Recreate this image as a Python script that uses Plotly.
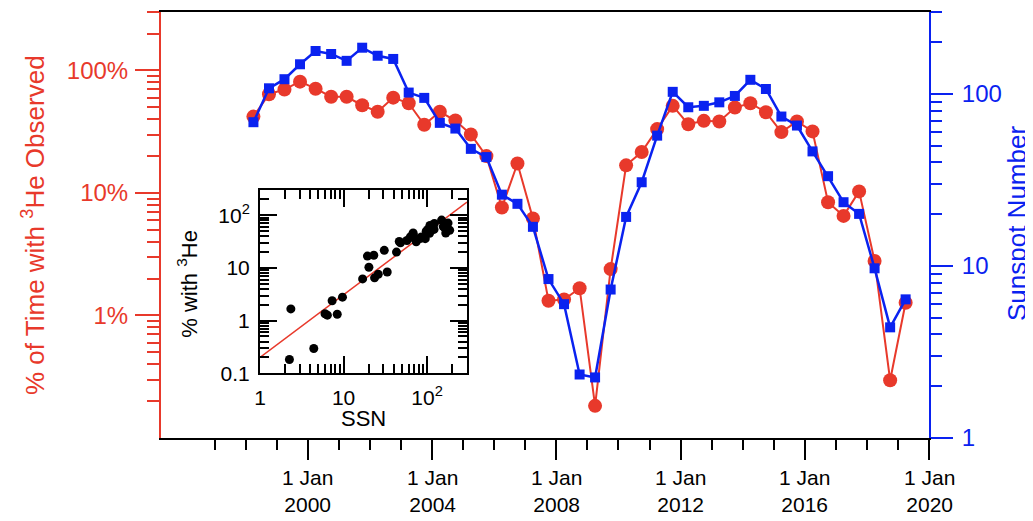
import plotly.graph_objects as go
import pandas as pd

# ---------------- data ----------------
# semi-annual samples, Apr 1998 ... Apr 2019
dates = pd.date_range("1998-04-01", periods=43, freq="6MS")

he3_pct = [42, 64, 70, 81, 71, 61, 61, 52, 46, 60,
           54, 36, 46, 39, 30, 20, 7.6, 17.4, 6.2, 1.32,
           1.35, 1.67, 0.183, 2.39, 16.8, 21.6, 33.2, 51.4, 36.4, 38.8,
           38.3, 49.8, 54, 45.6, 31.4, 38.3, 31.8, 8.4, 6.5, 10.3,
           2.79, 0.296, 1.27]

ssn = [68.6, 108, 122, 149, 178, 171, 156, 186, 167, 160,
       102, 95, 68, 63, 48, 43, 26, 23, 16.9, 8.4,
       6.0, 2.34, 2.25, 7.3, 19.3, 30.7, 57.3, 103, 83.8, 85.4,
       89.5, 97.5, 121, 107, 74, 65.6, 46.4, 33.3, 23.5, 20.1,
       9.7, 4.4, 6.4]

# power-law fit shown in the inset: pct = FIT_A * SSN ** FIT_B
FIT_A = 0.2
FIT_B = 1.19

major_years = [2000, 2004, 2008, 2012, 2016, 2020]
minor_years = [y for y in range(1997, 2020) if y not in major_years]

left_major = [1, 10, 100]
left_labels = ["1%", "10%", "100%"]
right_major = [1, 10, 100]
right_labels = ["1", "10", "100"]
inset_x_major = [1, 10, 100]
inset_x_labels = ["1", "10", "10<sup>2</sup>"]
inset_y_major = [0.1, 1, 10, 100]
inset_y_labels = ["0.1", "1", "10", "10<sup>2</sup>"]

# ---------------- style ----------------
RED = "#E8392B"
BLUE = "#0A22F0"
FONT = "Liberation Sans, Arial, Helvetica, sans-serif"


def log_minor(decades, extra=()):
    return [k * 10 ** e for e in decades for k in range(2, 10)] + list(extra)


fig = go.Figure()

fig.add_trace(go.Scatter(
    x=dates, y=he3_pct, mode="lines+markers",
    line=dict(color=RED, width=2),
    marker=dict(symbol="circle", size=14, color=RED),
    xaxis="x", yaxis="y", showlegend=False, cliponaxis=False))

fig.add_trace(go.Scatter(
    x=dates, y=ssn, mode="lines+markers",
    line=dict(color=BLUE, width=2.5),
    marker=dict(symbol="square", size=10, color=BLUE),
    xaxis="x", yaxis="y2", showlegend=False, cliponaxis=False))

# inset: fit line + scatter of % vs SSN
fit_x = [1, 300]
fig.add_trace(go.Scatter(
    x=fit_x, y=[FIT_A * v ** FIT_B for v in fit_x], mode="lines",
    line=dict(color=RED, width=1.5),
    xaxis="x3", yaxis="y3", showlegend=False))

fig.add_trace(go.Scatter(
    x=ssn, y=he3_pct, mode="markers",
    marker=dict(color="black", size=9),
    xaxis="x3", yaxis="y3", showlegend=False))

# page body has an 8px margin; figure is sized so that the plot area
# lands at x 161..929, y 10..438 of the page
OFF = 8
W, H = 1033 - OFF, 521 - OFF
L, R, T, B = 161, 929, 10, 438          # page coordinates of plot area
pw, ph = R - L, B - T


def px(xp):
    return (xp - L) / pw


def py(yp):
    return (B - yp) / ph


fig.update_layout(
    width=W, height=H,
    margin=dict(l=L - OFF, r=1033 - R, t=T - OFF, b=521 - B),
    paper_bgcolor="white", plot_bgcolor="white",
    font=dict(family=FONT, size=22, color="black"),
    xaxis=dict(
        type="date", domain=[0, 1],
        range=["1995-04-10", "2020-01-01"],
        tickmode="array",
        tickvals=[f"{y}-01-01" for y in major_years],
        showticklabels=False,
        ticks="outside", ticklen=20, tickwidth=2, tickcolor="black",
        minor=dict(tickmode="array",
                   tickvals=[f"{y}-01-01" for y in minor_years],
                   ticks="outside", ticklen=10, tickwidth=2, tickcolor="black"),
        showline=True, linecolor="black", linewidth=2, mirror=True,
        showgrid=False, zeroline=False,
    ),
    yaxis=dict(
        type="log", domain=[0, 1], range=[-1, 2.4771],
        tickmode="array", tickvals=left_major, ticktext=left_labels,
        ticks="outside", ticklen=24, tickwidth=2, tickcolor=RED,
        minor=dict(tickmode="array", tickvals=log_minor([-1, 0, 1], [200, 300]),
                   ticks="outside", ticklen=12, tickwidth=2, tickcolor=RED),
        tickfont=dict(color=RED, size=24), ticklabelstandoff=2,
        showline=True, linecolor=RED, linewidth=2,
        showgrid=False, zeroline=False,
    ),
    yaxis2=dict(
        type="log", overlaying="y", side="right", range=[0, 2.4771],
        tickmode="array", tickvals=right_major, ticktext=right_labels,
        ticks="outside", ticklen=22, tickwidth=2, tickcolor=BLUE,
        minor=dict(tickmode="array", tickvals=log_minor([0, 1], [200, 300]),
                   ticks="outside", ticklen=11, tickwidth=2, tickcolor=BLUE),
        tickfont=dict(color=BLUE, size=24), ticklabelstandoff=4,
        showline=True, linecolor=BLUE, linewidth=2,
        showgrid=False, zeroline=False,
    ),
    xaxis3=dict(
        type="log", domain=[px(260), px(467)], anchor="y3", range=[0, 2.4771],
        tickmode="array", tickvals=inset_x_major, ticktext=inset_x_labels,
        ticks="inside", ticklen=17, tickwidth=1.5, tickcolor="black",
        minor=dict(tickmode="array", tickvals=log_minor([0, 1], [200, 300]),
                   ticks="inside", ticklen=9, tickwidth=1.5, tickcolor="black"),
        tickfont=dict(size=21), ticklabelstandoff=4,
        showline=True, linecolor="black", linewidth=2, mirror="allticks",
        showgrid=False, zeroline=False,
    ),
    yaxis3=dict(
        type="log", domain=[py(373), py(189)], anchor="x3", range=[-1, 2.4771],
        tickmode="array", tickvals=inset_y_major, ticktext=inset_y_labels,
        ticks="inside", ticklen=17, tickwidth=1.5, tickcolor="black",
        minor=dict(tickmode="array", tickvals=log_minor([-1, 0, 1], [200, 300]),
                   ticks="inside", ticklen=9, tickwidth=1.5, tickcolor="black"),
        tickfont=dict(size=21), ticklabelstandoff=4,
        showline=True, linecolor="black", linewidth=2, mirror="allticks",
        showgrid=False, zeroline=False,
    ),
)

annotations = []
for y in major_years:
    annotations.append(dict(x=f"{y}-01-01", xref="x", y=py(491), yref="paper",
                            text=f"1 Jan<br>{y}", showarrow=False, xanchor="center",
                            yanchor="middle", font=dict(size=21, color="black")))

annotations.append(dict(x=px(33), y=py(224), xref="paper", yref="paper",
                        text="% of Time with <sup>3</sup>He Observed", textangle=-90,
                        showarrow=False, xanchor="center", yanchor="middle",
                        font=dict(size=26, color=RED)))
annotations.append(dict(x=px(1017), y=py(223), xref="paper", yref="paper",
                        text="Sunspot Number", textangle=-90,
                        showarrow=False, xanchor="center", yanchor="middle",
                        font=dict(size=26, color=BLUE)))
annotations.append(dict(x=px(363), y=py(418), xref="paper", yref="paper",
                        text="SSN", showarrow=False, xanchor="center",
                        yanchor="middle", font=dict(size=22, color="black")))
annotations.append(dict(x=px(187), y=py(283), xref="paper", yref="paper",
                        text="% with <sup>3</sup>He", textangle=-90,
                        showarrow=False, xanchor="center", yanchor="middle",
                        font=dict(size=22, color="black")))
fig.update_layout(annotations=annotations)

fig.write_html("out.html")
